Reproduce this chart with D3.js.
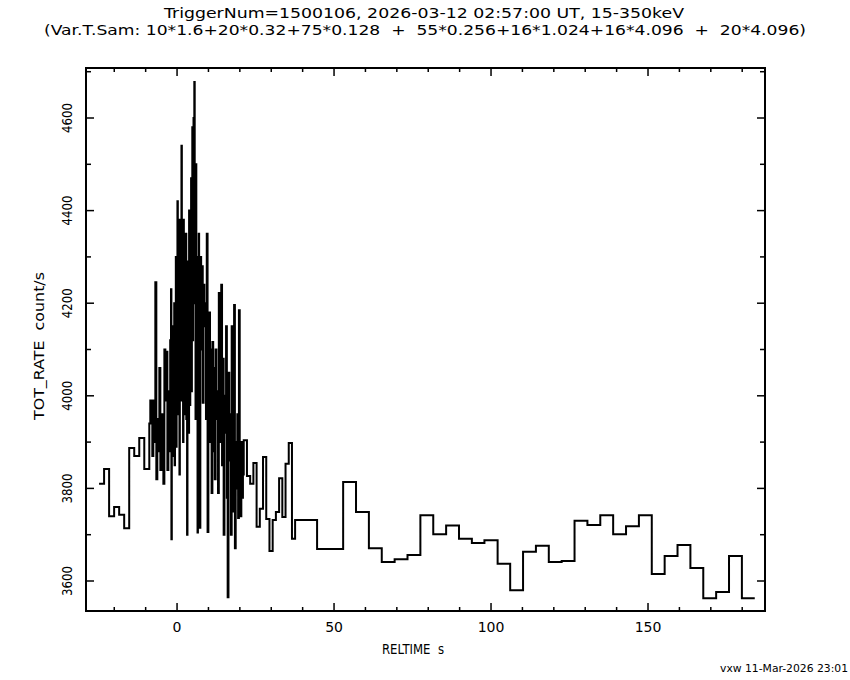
<!DOCTYPE html>
<html>
<head>
<meta charset="utf-8">
<script src="https://cdn.jsdelivr.net/npm/d3@7/dist/d3.min.js"></script>
<style>
  body { margin: 0; background: #fff; }
  svg text { font-family: "DejaVu Sans", sans-serif; fill: #000; white-space: pre; }
</style>
</head>
<body>
<svg id="chart" width="850" height="680"></svg>
<script>
// light curve, variable time sampling (see title)
const titleLine1 = "TriggerNum=1500106, 2026-03-12 02:57:00 UT, 15-350keV";
const titleLine2 = "(Var.T.Sam: 10*1.6+20*0.32+75*0.128  +  55*0.256+16*1.024+16*4.096  +  20*4.096)";
const stamp = "vxw 11-Mar-2026 23:01";

const tStart = -24.84;
const binWidths = [1.6, 0.32, 0.128, 0.256, 1.024];

const rate1600 = [3810, 3842, 3740, 3760, 3743, 3714, 3887, 3870, 3909, 3842];
const rate320 = [3940, 3990, 3945, 3870, 3990, 3900, 4245, 3820, 3880, 3950,
                 4060, 3840, 3960, 3900, 3810, 4100, 3990, 4095, 3840, 3960];
const rate128 = [4010, 3880, 4120, 3950, 4230, 3690, 3960, 4080, 3870, 4150,
                 3920, 4060, 4200, 3850, 4100, 3980, 4300, 3890, 4150, 4030,
                 4420, 3960, 4250, 4080, 4380, 3830, 4200, 4110, 4000, 4330,
                 4540, 3990, 4280, 4150, 3900, 4380, 4050, 4220, 3960, 4310,
                 4100, 4350, 3950, 4200, 3700, 4180, 4060, 4290, 3920, 4400,
                 4150, 3980, 4300, 4080, 4470, 4010, 4250, 4580, 4120, 4350,
                 4600, 4450, 4678, 4200, 4380, 3950, 4500, 4180, 4300, 4060,
                 3705, 4250, 3980, 4350, 4130];
const rate256 = [3715, 4300, 4100, 4280, 3985, 4240, 4150,
                 4200, 3950, 4350, 3706, 4050, 4180, 3900, 4100, 3790,
                 4116, 3880, 4060, 3820, 4100, 3950, 4010, 3790, 4222,
                 3900, 4150, 4240, 3850, 4080, 3700, 4000, 3920, 4150,
                 3780, 3565, 4050, 3860, 3960, 3700, 4150, 3820, 3750,
                 4196, 3671, 3900, 3800, 3960, 3736, 4185, 3850, 3740, 3900, 3780, 3830];
const rate1024 = [3904, 3827, 3810, 3855, 3717, 3756, 3868, 3734,
                  3665, 3732, 3749, 3822, 3738, 3853, 3898, 3691];

// slow part: bin start times (s) and rates
const slowStarts = [37.6, 44.6, 52.9, 57.0, 61.1, 65.2, 69.3, 73.4, 77.5, 81.6,
                    85.7, 89.8, 93.9, 97.9, 102.1, 106.1, 110.2, 114.3, 118.4, 122.5,
                    126.6, 130.7, 134.8, 138.9, 143.0, 147.1, 151.2, 155.3, 159.4, 163.5,
                    167.6, 171.7, 175.8, 179.9];
const slowRates = [3732, 3669, 3814, 3749, 3671, 3641, 3647, 3656, 3742, 3701,
                   3720, 3691, 3682, 3688, 3637, 3580, 3663, 3676, 3641, 3643,
                   3730, 3721, 3742, 3701, 3718, 3742, 3615, 3654, 3678, 3628,
                   3563, 3576, 3654, 3563];
const tEnd = 184.0;

const xLabels = [0, 50, 100, 150];
const yLabels = [3600, 3800, 4000, 4200, 4400, 4600];

const svg = d3.select("#chart");
const plotL = 86, plotR = 765, plotT = 68, plotB = 611;

const x = d3.scaleLinear().domain([-29, 187.26]).range([plotL, plotR]);
const y = d3.scaleLinear().domain([3535.2, 4708]).range([plotB, plotT]);

// build the step points
const steps = [];
let t = tStart;
[rate1600, rate320, rate128, rate256, rate1024].forEach((vals, i) => {
  vals.forEach(v => { steps.push({t: t, v: v}); t += binWidths[i]; });
});
slowStarts.forEach((s, i) => steps.push({t: s, v: slowRates[i]}));
steps.push({t: tEnd, v: slowRates[slowRates.length - 1]});

const line = d3.line()
  .x(d => x(d.t))
  .y(d => y(d.v))
  .curve(d3.curveStepAfter);

svg.append("path")
  .datum(steps)
  .attr("d", line)
  .attr("fill", "none")
  .attr("stroke", "#000")
  .attr("stroke-width", 2);

// frame
svg.append("rect")
  .attr("x", plotL).attr("y", plotT)
  .attr("width", plotR - plotL).attr("height", plotB - plotT)
  .attr("fill", "none").attr("stroke", "#000").attr("stroke-width", 2);

// ticks on all four sides
const ticks = svg.append("g").attr("stroke", "#000").attr("stroke-width", 1.5);
x.ticks(20).forEach(v => {
  const len = xLabels.includes(v) ? 8 : 4;
  ticks.append("line").attr("x1", x(v)).attr("x2", x(v)).attr("y1", plotB).attr("y2", plotB - len);
  ticks.append("line").attr("x1", x(v)).attr("x2", x(v)).attr("y1", plotT).attr("y2", plotT + len);
});
y.ticks(12).forEach(v => {
  const len = yLabels.includes(v) ? 8 : 5;
  ticks.append("line").attr("y1", y(v)).attr("y2", y(v)).attr("x1", plotL).attr("x2", plotL + len);
  ticks.append("line").attr("y1", y(v)).attr("y2", y(v)).attr("x1", plotR).attr("x2", plotR - len);
});

svg.selectAll(".xl")
  .data(xLabels)
  .join("text")
  .attr("x", d => x(d))
  .attr("y", 632)
  .attr("text-anchor", "middle")
  .style("font-size", "14px")
  .text(d => d);

svg.selectAll(".yl")
  .data(yLabels)
  .join("text")
  .attr("transform", d => `translate(72, ${y(d)}) rotate(-90)`)
  .attr("text-anchor", "middle")
  .attr("textLength", 30)
  .attr("lengthAdjust", "spacingAndGlyphs")
  .style("font-size", "14px")
  .text(d => d);

function label(txt, px, py, size, len, rot) {
  const el = svg.append("text")
    .attr("text-anchor", "middle")
    .attr("xml:space", "preserve")
    .attr("textLength", len)
    .attr("lengthAdjust", "spacingAndGlyphs")
    .style("font-size", size + "px")
    .text(txt);
  if (rot) el.attr("transform", `translate(${px}, ${py}) rotate(-90)`);
  else el.attr("x", px).attr("y", py);
  return el;
}

label(titleLine1, 424, 18, 14, 520);
label(titleLine2, 425, 35, 14, 762);
label("RELTIME  s", 413, 654, 14, 62);
label("TOT_RATE  count/s", 44, 346, 14, 148, true);
svg.append("text")
  .attr("x", 848).attr("y", 672)
  .attr("text-anchor", "end")
  .attr("textLength", 128)
  .attr("lengthAdjust", "spacingAndGlyphs")
  .style("font-size", "10px")
  .text(stamp);
</script>
</body>
</html>
